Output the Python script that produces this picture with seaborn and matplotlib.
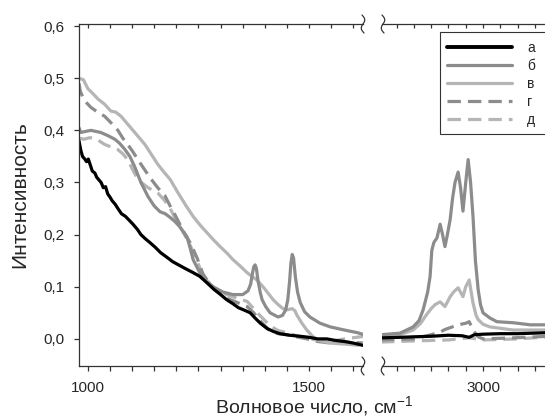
import numpy as np
import pandas as pd
import matplotlib
matplotlib.use("Agg")
import matplotlib.pyplot as plt
from matplotlib.lines import Line2D
from matplotlib.patches import Rectangle
from matplotlib.ticker import FixedLocator, FuncFormatter, NullFormatter
import seaborn as sns

# ---------------- data ----------------
labels = ["а", "б", "в", "г", "д"]

# low-wavenumber region
a_low_x = [980, 984, 988, 993, 997, 1001, 1005, 1010, 1016, 1020, 1025, 1030, 1035, 1040, 1045, 1050,
           1055, 1062, 1068, 1076, 1085, 1093, 1102, 1112, 1120, 1130, 1140, 1152, 1165, 1178, 1192,
           1205, 1220, 1236, 1253, 1270, 1285, 1300, 1314, 1327, 1340, 1354, 1367, 1378, 1390, 1405,
           1420, 1434, 1456, 1480, 1500, 1520, 1540, 1560, 1580, 1600, 1625]
a_low_y = [0.38, 0.362, 0.35, 0.345, 0.34, 0.345, 0.335, 0.322, 0.318, 0.31, 0.305, 0.30, 0.29, 0.292,
           0.278, 0.272, 0.265, 0.258, 0.25, 0.24, 0.235, 0.228, 0.22, 0.21, 0.20, 0.192, 0.185, 0.176,
           0.165, 0.157, 0.148, 0.142, 0.135, 0.128, 0.12, 0.107, 0.095, 0.085, 0.075, 0.068, 0.06,
           0.055, 0.05, 0.04, 0.03, 0.02, 0.014, 0.01, 0.007, 0.005, 0.003, 0.0, 0.0, -0.003, -0.005,
           -0.008, -0.013]

b_low_x = [980, 984, 995, 1007, 1018, 1029, 1045, 1061, 1072, 1084, 1095, 1106, 1120, 1136, 1150, 1163,
           1175, 1186, 1197, 1208, 1224, 1231, 1238, 1253, 1268, 1283, 1305, 1328, 1350, 1362, 1368,
           1372, 1375, 1378, 1381, 1385, 1390, 1394, 1402, 1412, 1430, 1440, 1447, 1452, 1456, 1459,
           1462, 1465, 1469, 1474, 1480, 1490, 1502, 1525, 1548, 1580, 1609, 1625]
b_low_y = [0.405, 0.396, 0.398, 0.40, 0.398, 0.396, 0.39, 0.383, 0.375, 0.363, 0.35, 0.33, 0.30, 0.273,
           0.255, 0.244, 0.24, 0.233, 0.225, 0.215, 0.196, 0.175, 0.152, 0.127, 0.11, 0.10, 0.09,
           0.085, 0.085, 0.092, 0.105, 0.125, 0.138, 0.142, 0.135, 0.11, 0.088, 0.075, 0.062, 0.05,
           0.042, 0.045, 0.055, 0.075, 0.11, 0.145, 0.162, 0.155, 0.12, 0.09, 0.07, 0.052, 0.042, 0.03,
           0.023, 0.017, 0.012, 0.008]

c_low_x = [980, 990, 1000, 1012, 1023, 1038, 1052, 1063, 1075, 1087, 1097, 1112, 1129, 1145, 1158, 1172,
           1186, 1204, 1220, 1238, 1254, 1269, 1284, 1299, 1314, 1328, 1344, 1360, 1371, 1382, 1396,
           1408, 1419, 1430, 1441, 1452, 1462, 1468, 1473, 1484, 1495, 1507, 1518, 1548, 1580, 1609,
           1625]
c_low_y = [0.50, 0.497, 0.48, 0.47, 0.46, 0.45, 0.437, 0.435, 0.427, 0.415, 0.405, 0.39, 0.373, 0.352,
           0.335, 0.32, 0.306, 0.28, 0.258, 0.235, 0.218, 0.204, 0.19, 0.177, 0.165, 0.152, 0.14,
           0.127, 0.12, 0.113, 0.10, 0.087, 0.075, 0.066, 0.058, 0.056, 0.058, 0.054, 0.045, 0.03,
           0.017, 0.006, -0.002, -0.008, -0.01, -0.012, -0.01]

d_low_x = [980, 983, 989, 998, 1007, 1022, 1038, 1053, 1068, 1079, 1090, 1101, 1113, 1124, 1136, 1147,
           1158, 1174, 1186, 1197, 1208, 1220, 1231, 1247, 1260, 1272, 1283, 1298, 1314, 1337, 1360,
           1375, 1389, 1412, 1430, 1450, 1472, 1495, 1520, 1548, 1580, 1625]
d_low_y = [0.49, 0.475, 0.463, 0.452, 0.444, 0.435, 0.427, 0.414, 0.40, 0.385, 0.373, 0.36, 0.344,
           0.33, 0.315, 0.302, 0.29, 0.275, 0.255, 0.238, 0.22, 0.2, 0.185, 0.155, 0.125, 0.11, 0.098,
           0.088, 0.078, 0.07, 0.062, 0.05, 0.035, 0.015, 0.01, 0.008, 0.004, 0.0, -0.005, -0.008,
           -0.006, -0.008]

e_low_x = [980, 991, 1005, 1020, 1038, 1053, 1068, 1079, 1090, 1101, 1113, 1124, 1136, 1147, 1158,
           1174, 1186, 1197, 1208, 1220, 1231, 1247, 1260, 1272, 1283, 1298, 1314, 1337, 1360, 1375,
           1389, 1412, 1430, 1450, 1472, 1495, 1520, 1548, 1580, 1625]
e_low_y = [0.385, 0.383, 0.386, 0.383, 0.373, 0.368, 0.363, 0.355, 0.344, 0.325, 0.306, 0.298, 0.29,
           0.285, 0.28, 0.265, 0.25, 0.232, 0.215, 0.198, 0.18, 0.15, 0.12, 0.11, 0.1, 0.092, 0.085,
           0.078, 0.072, 0.058, 0.045, 0.025, 0.016, 0.012, 0.006, 0.002, -0.003, -0.005, 0.0, 0.005]

# high-wavenumber region
a_high_x = [2705, 2760, 2800, 2850, 2900, 2940, 2960, 2975, 3000, 3050, 3100, 3190]
a_high_y = [0.002, 0.003, 0.004, 0.005, 0.007, 0.006, 0.003, 0.008, 0.009, 0.01, 0.01, 0.012]

b_high_x = [2705, 2760, 2798, 2815, 2827, 2840, 2847, 2852, 2858, 2867, 2876, 2883, 2890, 2897, 2905,
            2912, 2919, 2928, 2935, 2942, 2950, 2957, 2964, 2971, 2978, 2986, 2993, 3000, 3020, 3040,
            3087, 3136, 3190]
b_high_y = [0.008, 0.011, 0.023, 0.035, 0.056, 0.09, 0.12, 0.17, 0.185, 0.194, 0.22, 0.20, 0.177, 0.20,
            0.229, 0.27, 0.30, 0.32, 0.29, 0.245, 0.30, 0.344, 0.30, 0.235, 0.15, 0.094, 0.065, 0.05,
            0.04, 0.033, 0.031, 0.027, 0.027]

c_high_x = [2705, 2760, 2798, 2820, 2835, 2850, 2862, 2876, 2890, 2905, 2915, 2928, 2942, 2950, 2960,
            2971, 2980, 2986, 3000, 3020, 3087, 3190]
c_high_y = [0.005, 0.008, 0.017, 0.03, 0.045, 0.058, 0.066, 0.071, 0.062, 0.081, 0.09, 0.098, 0.081,
            0.10, 0.113, 0.069, 0.045, 0.037, 0.028, 0.023, 0.017, 0.017]

d_high_x = [2705, 2800, 2850, 2876, 2890, 2928, 2950, 2960, 2971, 2986, 3000, 3087, 3190]
d_high_y = [-0.002, 0.0, 0.008, 0.013, 0.018, 0.027, 0.03, 0.033, 0.017, 0.004, 0.0, 0.002, 0.005]

e_high_x = [2705, 2800, 2900, 2960, 3000, 3100, 3190]
e_high_y = [-0.006, -0.004, -0.002, 0.002, -0.002, 0.0, 0.004]

y_ticks = [0.0, 0.1, 0.2, 0.3, 0.4, 0.5, 0.6]
x_low_labels = [1000, 1500]
x_high_labels = [3000]

# ---------------- styling ----------------
sns.set_style("white")
plt.rcParams["font.family"] = ["Liberation Sans", "DejaVu Sans"]
plt.rcParams["mathtext.fontset"] = "custom"
plt.rcParams["mathtext.rm"] = "Liberation Sans"
plt.rcParams["mathtext.it"] = "Liberation Sans"
plt.rcParams["mathtext.default"] = "regular"

W, H = 545, 419
fig = plt.figure(figsize=(W / 100, H / 100), dpi=100)

def fx(px):
    return np.asarray(px) / W

def fy(py):
    return 1 - np.asarray(py) / H

axL = fig.add_axes([fx(79), fy(366), fx(363) - fx(79), fy(24) - fy(366)])
axR = fig.add_axes([fx(382), fy(366), fx(548) - fx(382), fy(24) - fy(366)])

black = "#000000"
mid = "#8c8c8c"
light = "#b5b5b5"
lw = 2.3
dash = (0, (4.2, 2.2))

styles = [
    dict(color=black, linestyle="-"),
    dict(color=mid, linestyle="-"),
    dict(color=light, linestyle="-"),
    dict(color=mid, linestyle=dash),
    dict(color=light, linestyle=dash),
]
low = [(a_low_x, a_low_y), (b_low_x, b_low_y), (c_low_x, c_low_y), (d_low_x, d_low_y), (e_low_x, e_low_y)]
high = [(a_high_x, a_high_y), (b_high_x, b_high_y), (c_high_x, c_high_y), (d_high_x, d_high_y),
        (e_high_x, e_high_y)]

order = [4, 3, 2, 1, 0]
for i in order:
    for ax, (xs, ys) in ((axL, low[i]), (axR, high[i])):
        df = pd.DataFrame({"x": xs, "y": ys})
        sns.lineplot(data=df, x="x", y="y", ax=ax, linewidth=lw, sort=False,
                     estimator=None, legend=False, **styles[i])

ylim = (-0.052, 0.604)
axL.set_xlim(980, 1622)
axR.set_xlim(2708, 2708 + (548 - 382) / 0.346)
for ax in (axL, axR):
    ax.set_ylim(*ylim)
    ax.set_xlabel("")
    ax.set_ylabel("")
    for s in ax.spines.values():
        s.set_color("#333333")
        s.set_linewidth(0.9)

axL.spines["right"].set_visible(False)
axR.spines["left"].set_visible(False)
axR.spines["right"].set_visible(False)

fmt = FuncFormatter(lambda v, p: f"{v:.1f}".replace(".", ","))
axL.yaxis.set_major_locator(FixedLocator(y_ticks))
axL.yaxis.set_major_formatter(fmt)
axL.tick_params(axis="y", direction="out", length=3.5, width=0.9, color="#333333",
                labelsize=11, pad=7, left=True)
axR.tick_params(axis="y", left=False, labelleft=False)

def setup_x(ax, majors, minors):
    ax.xaxis.set_major_locator(FixedLocator(majors))
    ax.xaxis.set_minor_locator(FixedLocator(minors))
    ax.tick_params(axis="x", which="both", direction="out", length=3.5, width=0.9,
                   color="#333333", labelsize=11, pad=7, bottom=True)
    sec = ax.secondary_xaxis("top")
    sec.xaxis.set_major_locator(FixedLocator(majors + minors))
    sec.xaxis.set_major_formatter(NullFormatter())
    sec.tick_params(axis="x", direction="in", length=3, width=0.9, color="#333333")
    sec.spines["top"].set_visible(False)

setup_x(axL, x_low_labels, [v for v in range(1050, 1601, 50) if v != 1500])
setup_x(axR, x_high_labels, [v for v in range(2750, 3151, 50) if v != 3000])

# axis-break marks
def brk(px, py):
    t = np.linspace(-1, 1, 40)
    xs = px + 2.2 * np.sin(np.pi * t) - 1.0 * t
    ys = py - 9 * t
    fig.add_artist(Line2D(fx(xs), fy(ys), color="#333333", lw=0.9))

for py in (24, 366):
    brk(363, py)
    brk(383, py)

# labels
fig.text(fx(20), fy(195), "Интенсивность", rotation=90, ha="center", va="center", fontsize=15)
fig.text(fx(314), fy(413), "Волновое число, см$^{-1}$", ha="center", va="baseline", fontsize=14)

# legend: frame drawn as a rectangle running past the right edge, as in the reference
fig.add_artist(Rectangle((fx(440), fy(134)), fx(570) - fx(440), fy(32) - fy(134),
                         facecolor="white", edgecolor="#333333", linewidth=0.8, zorder=4))
handles = [Line2D([], [], linewidth=lw + (0.5 if i == 0 else 0), **styles[i]) for i in range(5)]
leg = fig.legend(handles, labels, loc="upper left", bbox_to_anchor=(fx(441), fy(35)),
                 frameon=False, fontsize=10, handlelength=4.7,
                 handletextpad=1.1, labelspacing=0.3, borderpad=0.4, borderaxespad=0)
leg.set_zorder(5)

fig.savefig("out.png", dpi=100)
